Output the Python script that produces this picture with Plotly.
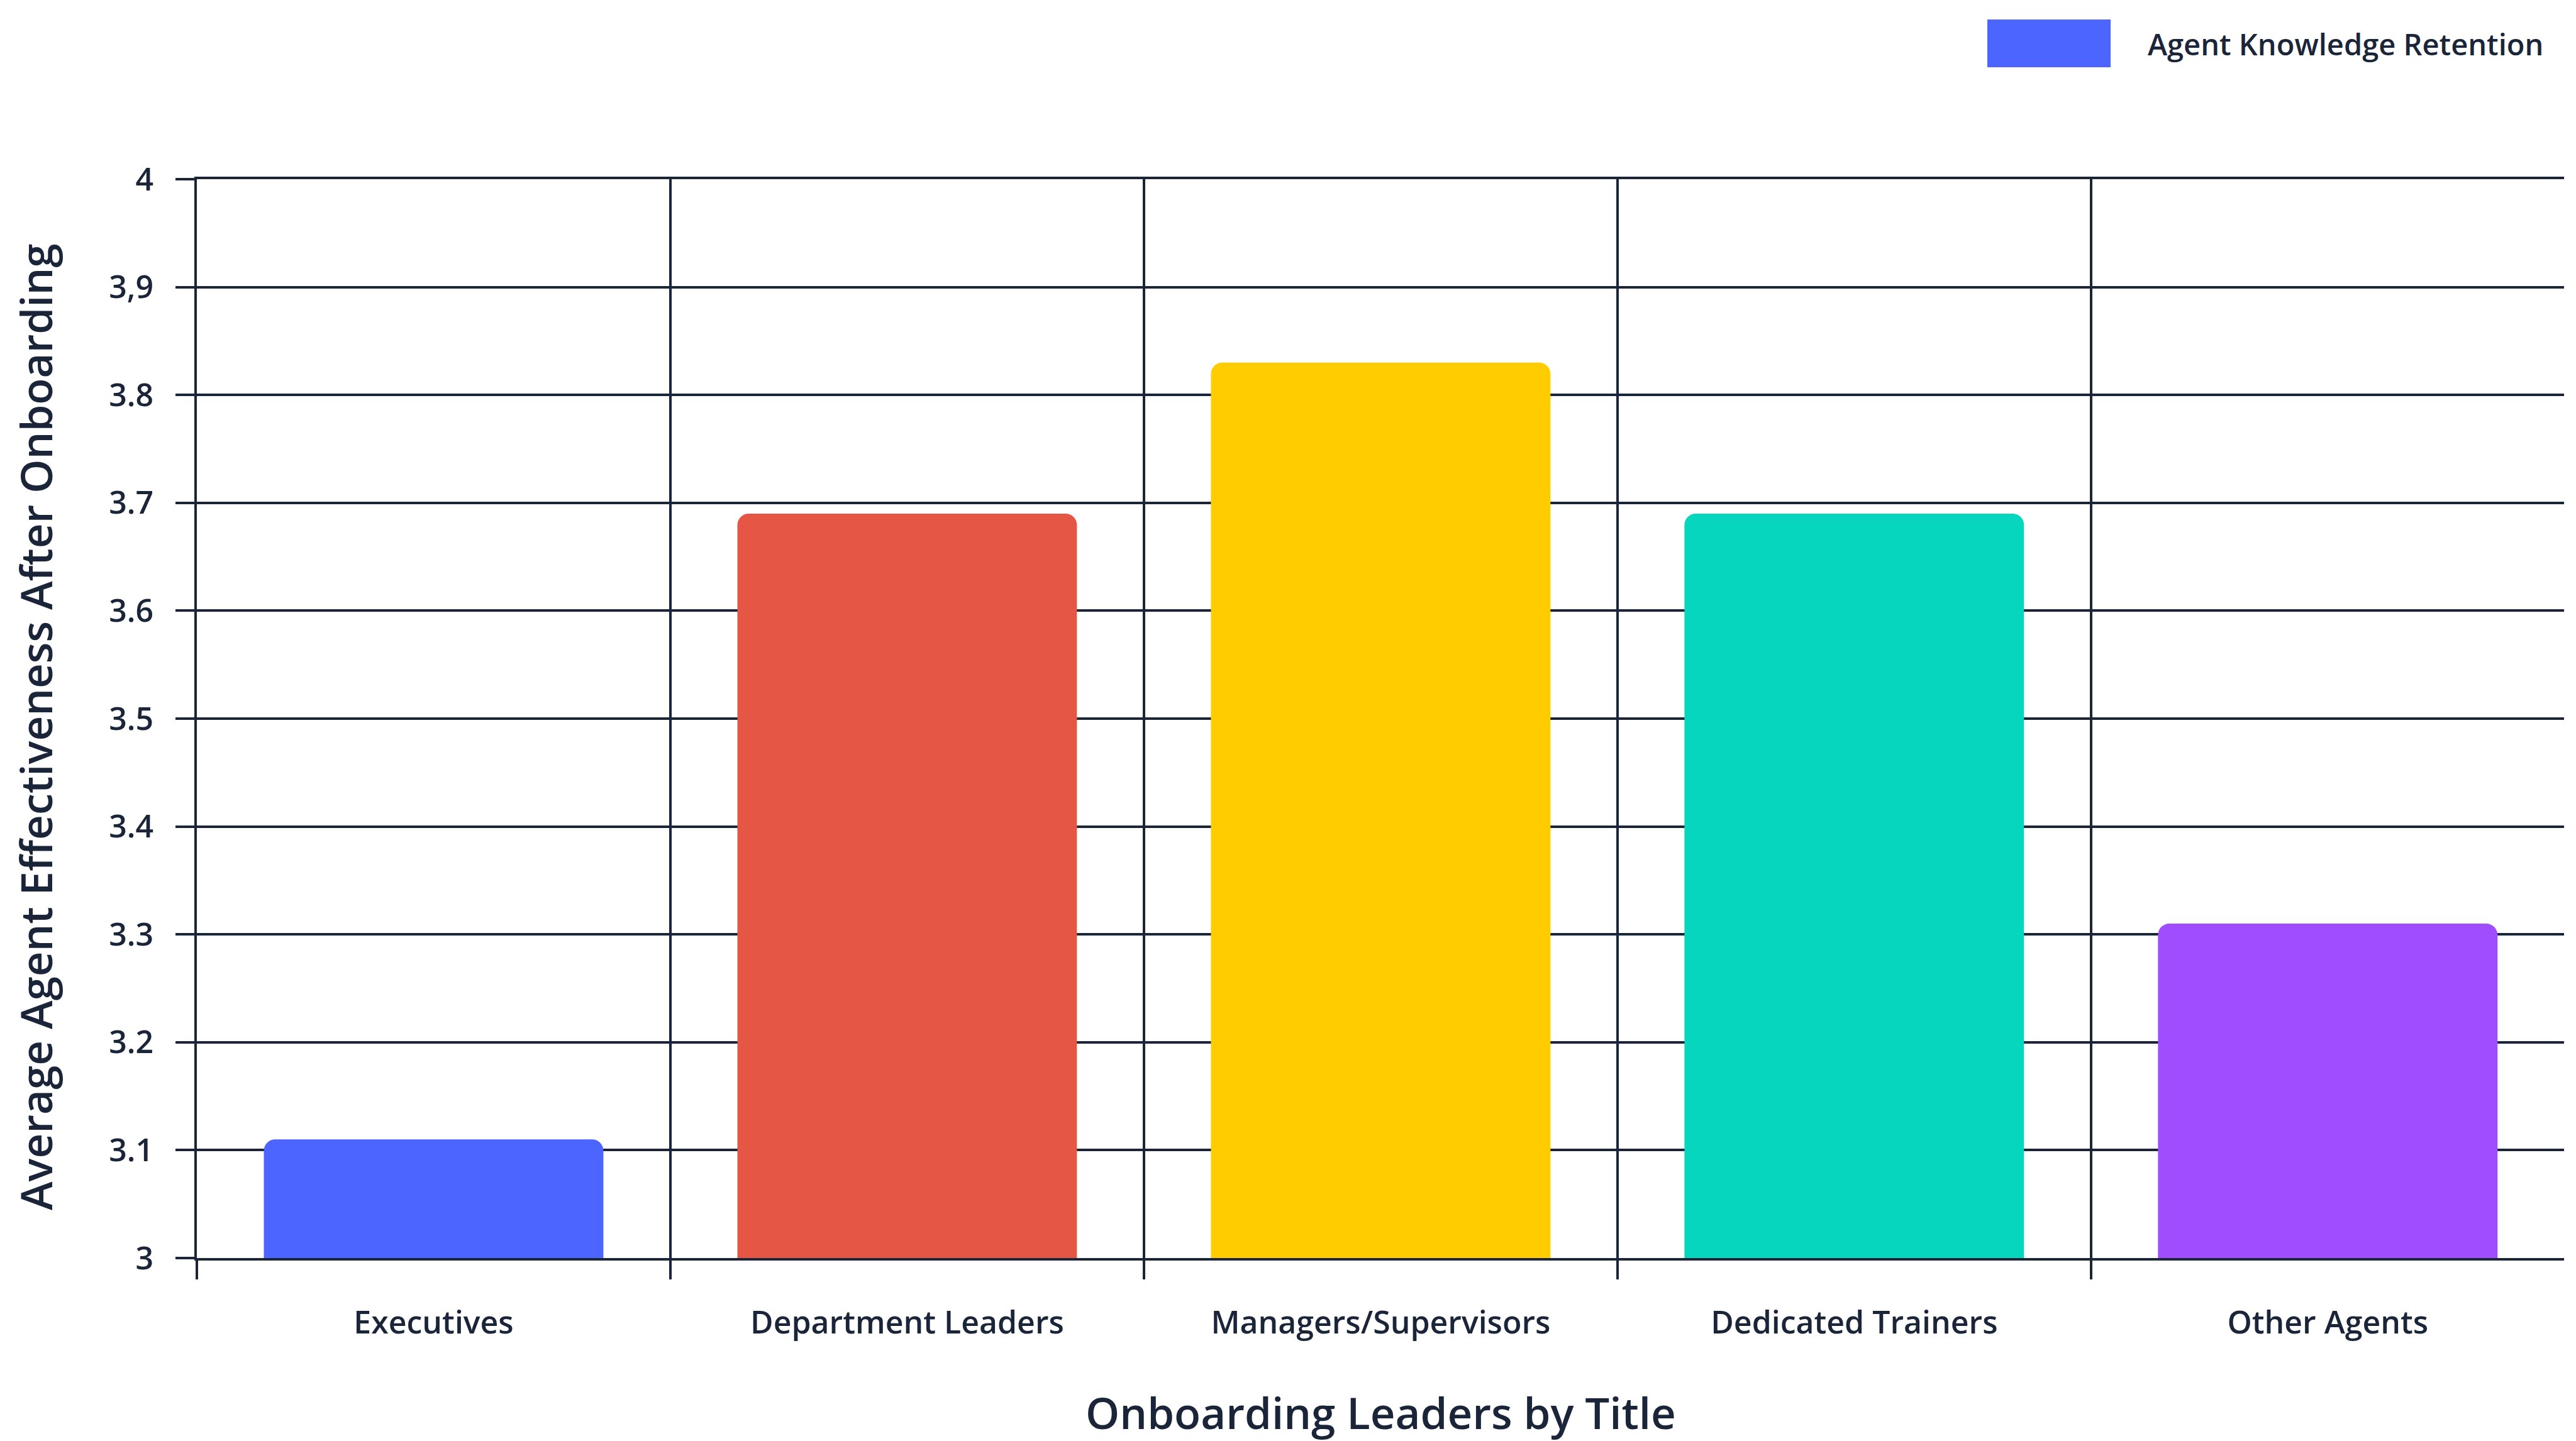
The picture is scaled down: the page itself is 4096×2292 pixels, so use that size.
import plotly.graph_objects as go

# Data
categories = ["Executives", "Department Leaders", "Managers/Supervisors",
              "Dedicated Trainers", "Other Agents"]
values = [3.11, 3.69, 3.83, 3.69, 3.31]
bar_colors = ["#4d65ff", "#e55744", "#ffcc00", "#06d6bd", "#a04dff"]
series_name = "Agent Knowledge Retention"
y_tickvals = [3, 3.1, 3.2, 3.3, 3.4, 3.5, 3.6, 3.7, 3.8, 3.9, 4]
y_ticktext = ["3", "3.1", "3.2", "3.3", "3.4", "3.5", "3.6", "3.7", "3.8", "3,9", "4"]
x_title = "Onboarding Leaders by Title"
y_title = "Average Agent Effectiveness After Onboarding"

# Layout constants (pixels)
W, H = 4096, 2292
ML, MR, MT, MB = 313, 19, 285, 291
INK = "#1b2539"
FONT = "Open Sans"
WEIGHT = 600
LINE_W = 4
TICK_SIZE = 50
TITLE_SIZE = 69
LEGEND_SIZE = 47

plot_w = W - ML - MR
plot_h = H - MT - MB


def px_to_paper_x(px):
    return (px - ML) / plot_w


def px_to_paper_y(py):
    return 1 - (py - MT) / plot_h


fig = go.Figure()
fig.add_trace(go.Bar(
    x=categories,
    y=values,
    name=series_name,
    marker=dict(color=bar_colors, cornerradius=18, line=dict(width=0)),
    showlegend=False,
))

fig.update_layout(
    width=W, height=H,
    margin=dict(l=ML, r=MR, t=MT, b=MB, autoexpand=False),
    paper_bgcolor="white",
    plot_bgcolor="white",
    font=dict(family=FONT, color=INK, size=TICK_SIZE, weight=WEIGHT),
    bargap=0.283,
)

fig.update_xaxes(
    type="category",
    range=[-0.5, 4.499],
    tickson="boundaries",
    ticks="outside", ticklen=30, tickwidth=LINE_W, tickcolor=INK,
    showgrid=True, gridcolor=INK, gridwidth=LINE_W,
    showline=True, linecolor=INK, linewidth=LINE_W, mirror=True,
    tickfont=dict(family=FONT, size=TICK_SIZE, color=INK, weight=WEIGHT),
    ticklabelstandoff=56,
    automargin=False,
    fixedrange=True,
)

fig.update_yaxes(
    range=[3, 4],
    tickmode="array", tickvals=y_tickvals, ticktext=y_ticktext,
    ticks="outside", ticklen=30, tickwidth=LINE_W, tickcolor=INK,
    showgrid=True, gridcolor=INK, gridwidth=LINE_W,
    showline=True, linecolor=INK, linewidth=LINE_W,
    zeroline=False,
    tickfont=dict(family=FONT, size=TICK_SIZE, color=INK, weight=WEIGHT),
    ticklabelstandoff=25,
    automargin=False,
    fixedrange=True,
)

# Axis titles
fig.add_annotation(
    text=x_title, xref="paper", yref="paper", x=0.5, y=0,
    xanchor="center", yanchor="middle", yshift=-(2246 - (H - MB)),
    showarrow=False, font=dict(family=FONT, size=TITLE_SIZE, color=INK, weight=WEIGHT),
)
fig.add_annotation(
    text=y_title, xref="paper", yref="paper", x=0, y=0.5,
    xanchor="center", yanchor="middle", xshift=-(ML - 56), yshift=-13,
    textangle=-90,
    showarrow=False, font=dict(family=FONT, size=TITLE_SIZE, color=INK, weight=WEIGHT),
)

# Legend swatch and label
fig.add_shape(
    type="rect", xref="paper", yref="paper",
    x0=px_to_paper_x(3160), x1=px_to_paper_x(3356),
    y0=px_to_paper_y(107), y1=px_to_paper_y(31),
    fillcolor=bar_colors[0], line=dict(width=0),
)
fig.add_annotation(
    text=series_name, xref="paper", yref="paper",
    x=px_to_paper_x(3413), y=px_to_paper_y(70),
    xanchor="left", yanchor="middle",
    showarrow=False, font=dict(family=FONT, size=LEGEND_SIZE, color=INK, weight=WEIGHT),
)

fig.write_html("out.html")
